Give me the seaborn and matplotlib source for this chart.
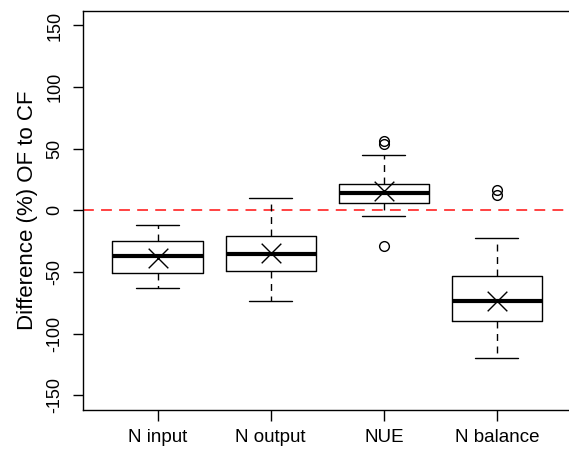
import numpy as np
import pandas as pd
import matplotlib
matplotlib.use("Agg")
import matplotlib.pyplot as plt
import seaborn as sns

sns.set_style("ticks", {"axes.edgecolor": "black", "xtick.color": "black",
                        "ytick.color": "black", "text.color": "black",
                        "axes.labelcolor": "black"})
plt.rcParams['font.family'] = ['Liberation Sans', 'DejaVu Sans']

categories = ["N input", "N output", "NUE", "N balance"]
whisker_low = [-62.8, -73.6, -4.6, -119.9]
q1 = [-50.6, -49.2, 5.7, -89.4]
medians = [-37.0, -35.2, 14.1, -73.9]
q3 = [-24.9, -20.5, 21.7, -53.6]
whisker_high = [-11.6, 9.8, 45.2, -22.2]
means = [-39.0, -34.6, 15.6, -73.9]
outliers = [[], [], [56.6, 54.0, -28.9], [16.2, 12.8]]
yticks = [-150, -100, -50, 0, 50, 100, 150]

stats = []
for i, c in enumerate(categories):
    stats.append(dict(label=c, whislo=whisker_low[i], q1=q1[i], med=medians[i],
                      q3=q3[i], whishi=whisker_high[i], fliers=outliers[i]))

fig = plt.figure(figsize=(5.69, 4.49), dpi=100)
ax = fig.add_axes([83 / 569, 1 - 410 / 449, 488.6 / 569, 399.3 / 449])

pos = np.arange(len(categories))
ax.bxp(stats, positions=pos, widths=0.8, capwidths=0.38, showfliers=True,
       boxprops=dict(color='black', linewidth=1.0),
       medianprops=dict(color='black', linewidth=3.0),
       whiskerprops=dict(color='black', linewidth=1.0, linestyle=(0, (5, 4))),
       capprops=dict(color='black', linewidth=1.0),
       flierprops=dict(marker='o', markerfacecolor='none', markeredgecolor='black',
                       markersize=7, markeredgewidth=1.0))

mean_df = pd.DataFrame({'pos': pos, 'mean': means})
sns.scatterplot(data=mean_df, x='pos', y='mean', marker='x', s=200,
                color='black', linewidth=1.0, ax=ax, zorder=5)

ax.axhline(0, color='#ff3333', linewidth=1.3, linestyle=(0, (6, 4)), zorder=1)

ax.set_xlim(-0.66, 3.66)
ax.set_ylim(-162, 162)
ax.set_xticks(pos)
ax.set_xticklabels(categories, fontsize=13.5)
ax.set_yticks(yticks)
ax.set_yticklabels([str(v) for v in yticks], fontsize=13, rotation=90, va='center')
ax.tick_params(axis='y', length=7, width=1, pad=7)
ax.tick_params(axis='x', length=8, width=1, pad=6)
ax.set_xlabel('')
ax.set_ylabel('Difference (%) OF to CF', fontsize=16, labelpad=6)
for s in ax.spines.values():
    s.set_linewidth(1.0)
    s.set_color('black')

fig.savefig("out.png", dpi=100)
